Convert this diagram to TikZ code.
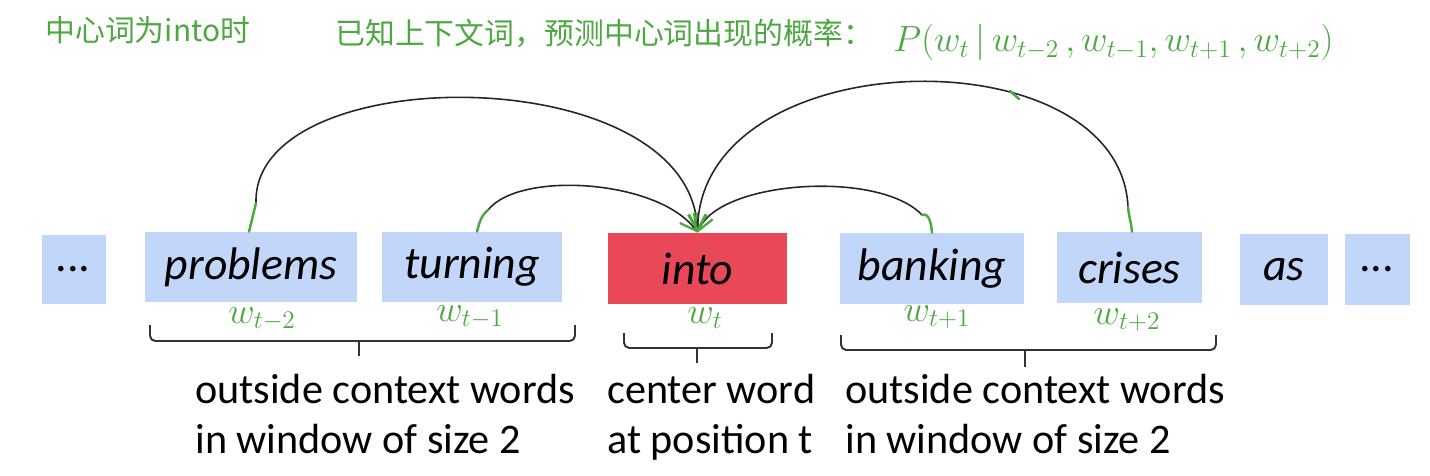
\documentclass[tikz,border=0pt]{standalone}
\usepackage{fontspec}
\setmainfont{Carlito}
\newfontfamily\cjk{Noto Sans CJK SC}
\usetikzlibrary{arrows.meta,calc}
\definecolor{wordblue}{RGB}{193,214,248}
\definecolor{centerred}{RGB}{232,72,88}
\definecolor{hand}{RGB}{78,168,66}
\tikzset{
    word/.style={fill=wordblue, minimum height=1.40cm, inner sep=0pt, font=\fontsize{26}{30}\selectfont\itshape},
    centerword/.style={word, fill=centerred},
    arc/.style={black!85, line width=0.9pt, -{Straight Barb[color=hand, length=9pt, width=10pt, line width=1.3pt]}},
    tick/.style={hand, line width=1.4pt, line cap=round},
    brk/.style={black!80, line width=1.1pt, rounded corners=3pt},
    note/.style={inner sep=0pt, font=\fontsize{24}{29}\selectfont},
    wlabel/.style={hand, inner sep=0pt, anchor=north, font=\fontsize{21}{24}\selectfont},
    title/.style={hand, inner sep=0pt, font=\fontsize{17}{20}\selectfont\cjk}
}
\begin{document}
\begin{tikzpicture}[x=0.02cm, y=-0.02cm]
    \useasboundingbox (0,0) rectangle (1430,476);

    \node[title, anchor=base west] (head1) at (45,42) {中心词为into时};
    \node[title, anchor=base west] (head2) at (335,45) {已知上下文词，预测中心词出现的概率：};
    \node[hand, inner sep=0pt, anchor=base west, font=\fontsize{19.5}{23}\selectfont] (prob) at (893,52) {$P(w_t\,|\,w_{t-2}\,,w_{t-1},w_{t+1}\,,w_{t+2})$};

    \node[word, minimum width=1.28cm] (dotsL) at (74,269.5) {...};
    \node[word, minimum width=4.24cm] (problems) at (251,267) {problems};
    \node[word, minimum width=3.60cm] (turning) at (472,267) {turning};
    \node[centerword, minimum width=3.58cm, minimum height=1.42cm] (into) at (697.5,268.5) {into};
    \node[word, minimum width=3.68cm, minimum height=1.42cm] (banking) at (932,268.5) {banking};
    \node[word, minimum width=2.90cm, minimum height=1.42cm] (crises) at (1129.5,267.5) {crises};
    \node[word, minimum width=1.76cm, minimum height=1.42cm] (as) at (1284,269.5) {as};
    \node[word, minimum width=1.30cm, minimum height=1.42cm] (dotsR) at (1377.5,269.5) {...};

    \coordinate (pS) at (256,203);
    \coordinate (tS) at (488,210);
    \coordinate (bE) at (922,215);
    \coordinate (cE) at (1128,207);

    \draw[arc] (pS) .. controls (252,58) and (692,58) .. (into.north);
    \draw[arc] (tS) .. controls (520,170) and (660,180) .. (into.north);
    \draw[arc] (bE) .. controls (880,170) and (720,180) .. (into.north);
    \draw[arc] (cE) .. controls (1120,32) and (700,40) .. (into.north);

    \draw[tick] ([xshift=-0.04cm]problems.north) -- (pS);
    \draw[tick] ([xshift=0.1cm]turning.north) to[out=75,in=-140] (tS);
    \draw[tick] (bE) to[out=20,in=95] (banking.north);
    \draw[tick] (cE) to[out=-85,in=95] ([xshift=0.05cm]crises.north);
    \draw[tick] (1010,91) -- (1019,99);

    \node[wlabel] (wtm2) at (262,307) {$w_{t-2}$};
    \node[wlabel] (wtm1) at (470,305) {$w_{t-1}$};
    \node[wlabel] (wt) at (705,307) {$w_t$};
    \node[wlabel] (wtp1) at (937,305) {$w_{t+1}$};
    \node[wlabel] (wtp2) at (1127,308) {$w_{t+2}$};

    \draw[brk] (150,325) -- (150,341) -- (575,341) -- (575,325);
    \draw[brk] (359,341) -- (359,356);
    \draw[brk] (624,333) -- (624,348) -- (772,348) -- (772,333);
    \draw[brk] (697,348) -- (697,363);
    \draw[brk] (841,335) -- (841,350) -- (1216,350) -- (1216,335);
    \draw[brk] (1025,350) -- (1025,367);

    \node[note, anchor=base west] (outL1) at (195,403) {outside context words};
    \node[note, anchor=base west] (outL2) at (195,453) {in window of size 2};
    \node[note, anchor=base west] (cen1) at (607,403) {center word};
    \node[note, anchor=base west] (cen2) at (607,453) {at position t};
    \node[note, anchor=base west] (outR1) at (845,403) {outside context words};
    \node[note, anchor=base west] (outR2) at (845,453) {in window of size 2};
\end{tikzpicture}
\end{document}
